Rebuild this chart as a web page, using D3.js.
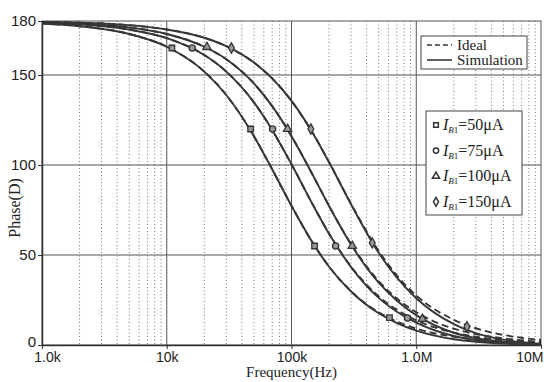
<!DOCTYPE html>
<html>
<head>
<meta charset="utf-8">
<script src="https://cdn.jsdelivr.net/npm/d3@7"></script>
<style>
  body { margin: 0; background: #fff; }
  svg { display: block; font-family: "Liberation Serif", "Times New Roman", serif; }
</style>
</head>
<body>
<div id="chart"></div>
<script>
// frequencies (Hz) the curves were read at
const freqs = [1e3, 2e3, 5e3, 1e4, 2e4, 3e4, 5e4, 7e4, 1e5, 1.5e5, 2e5, 3e5, 5e5, 7e5, 1e6, 2e6, 3e6, 5e6, 7e6, 1e7];

// ideal phase (deg)
const ideal50 = [178.6, 177.1, 172.8, 165.7, 151.9, 138.9, 116.0, 97.6, 77.3, 56.1, 43.6, 29.9, 18.2, 13.0, 9.1, 4.6, 3.1, 1.8, 1.3, 0.9];
const ideal75 = [179.0, 178.1, 175.2, 170.5, 161.1, 151.9, 134.8, 119.5, 100.4, 77.3, 61.9, 43.6, 27.0, 19.5, 13.7, 6.9, 4.6, 2.7, 2.0, 1.4];
const ideal100 = [179.3, 178.6, 176.4, 172.8, 165.7, 158.8, 145.3, 132.7, 116.0, 93.7, 77.3, 56.1, 35.5, 25.8, 18.2, 9.1, 6.1, 3.7, 2.6, 1.8];
const ideal150 = [179.5, 179.1, 177.7, 175.3, 170.7, 166.0, 156.9, 148.1, 135.6, 117.1, 101.6, 78.5, 52.2, 38.6, 27.5, 14.0, 9.3, 5.6, 4.0, 2.8];

// simulated phase (deg)
const sim50 = [178.6, 177.1, 172.8, 165.7, 151.9, 138.9, 116.0, 97.6, 77.3, 56.1, 43.5, 29.7, 17.6, 12.2, 8.0, 3.2, 1.8, 0.8, 0.5, 0.3];
const sim75 = [179.0, 178.1, 175.2, 170.5, 161.1, 151.9, 134.8, 119.5, 100.4, 77.3, 61.8, 43.3, 26.2, 18.5, 12.4, 5.0, 2.8, 1.3, 0.8, 0.4];
const sim100 = [179.3, 178.6, 176.4, 172.8, 165.7, 158.8, 145.3, 132.7, 116.0, 93.7, 77.2, 55.8, 34.6, 24.6, 16.6, 6.8, 3.8, 1.8, 1.0, 0.5];
const sim150 = [179.5, 179.1, 177.7, 175.3, 170.7, 166.0, 156.9, 148.1, 135.6, 117.1, 101.5, 78.2, 51.2, 37.4, 26.0, 11.6, 6.6, 3.0, 1.6, 0.7];

// marker points [freq, phase]
const mark50 = [[1.1e4, 165], [4.7e4, 120], [1.53e5, 55], [6.1e5, 15.2]];
const mark75 = [[1.6e4, 165], [7.05e4, 120], [2.26e5, 55], [8.5e5, 15]];
const mark100 = [[2.1e4, 165.5], [9.3e4, 120], [3.07e5, 55], [1.12e6, 14.5]];
const mark150 = [[3.3e4, 165], [1.43e5, 120], [4.44e5, 56.7], [2.55e6, 10.2]];

const seriesNames = ["50μA", "75μA", "100μA", "150μA"];
const xTicks = [1e3, 1e4, 1e5, 1e6, 1e7];
const xTickLabels = ["1.0k", "10k", "100k", "1.0M", "10M"];
const yTicks = [0, 50, 100, 150, 180];

const series = [
  { name: seriesNames[0], ideal: ideal50, sim: sim50, marks: mark50, symbol: d3.symbolSquare },
  { name: seriesNames[1], ideal: ideal75, sim: sim75, marks: mark75, symbol: d3.symbolCircle },
  { name: seriesNames[2], ideal: ideal100, sim: sim100, marks: mark100, symbol: d3.symbolTriangle },
  { name: seriesNames[3], ideal: ideal150, sim: sim150, marks: mark150, symbol: d3.symbolDiamond }
];

const width = 544, height = 382;
const margin = { top: 21, right: 3, bottom: 37, left: 42 };
const ink = '#363636';

const svg = d3.select('#chart').append('svg')
  .attr('width', width)
  .attr('height', height);

const x = d3.scaleLog()
  .domain([1e3, 1e7])
  .range([margin.left, width - margin.right]);

const y = d3.scaleLinear()
  .domain([0, 180])
  .range([height - margin.bottom, margin.top]);

// minor dotted grid
const minor = [];
for (let d = 1e3; d < 1e7; d *= 10) {
  for (let k = 2; k <= 9; k++) minor.push(d * k);
}
svg.append('g')
  .selectAll('line')
  .data(minor)
  .enter().append('line')
  .attr('x1', d => x(d)).attr('x2', d => x(d))
  .attr('y1', y(180)).attr('y2', y(0))
  .attr('stroke', '#777')
  .attr('stroke-width', 1)
  .attr('stroke-dasharray', '1,2.5');

// major grid
svg.append('g')
  .selectAll('line')
  .data([1e4, 1e5, 1e6])
  .enter().append('line')
  .attr('x1', d => x(d)).attr('x2', d => x(d))
  .attr('y1', y(180)).attr('y2', y(0))
  .attr('stroke', '#555')
  .attr('stroke-width', 1);

svg.append('g')
  .selectAll('line')
  .data([50, 100, 150])
  .enter().append('line')
  .attr('x1', x(1e3)).attr('x2', x(1e7))
  .attr('y1', d => y(d)).attr('y2', d => y(d))
  .attr('stroke', '#555')
  .attr('stroke-width', 1);

// frame
svg.append('rect')
  .attr('x', x(1e3)).attr('y', y(180))
  .attr('width', x(1e7) - x(1e3))
  .attr('height', y(0) - y(180))
  .attr('fill', 'none')
  .attr('stroke', '#555')
  .attr('stroke-width', 1);

// axes
const xAxis = svg.append('g')
  .attr('transform', 'translate(0,' + y(0) + ')')
  .call(d3.axisBottom(x).tickValues(xTicks).tickFormat((d, i) => xTickLabels[i]).tickSize(4).tickSizeOuter(0));
xAxis.select('.domain').attr('stroke', '#333').attr('stroke-width', 1.5);
xAxis.selectAll('.tick line').attr('stroke', '#333');
xAxis.selectAll('text')
  .attr('font-size', 14)
  .attr('fill', '#222')
  .attr('y', 7)
  .attr('dy', '0.71em');
xAxis.selectAll('.tick').filter(d => d === 1e3).select('text').attr('dx', 5);
xAxis.selectAll('.tick').filter(d => d === 1e7).select('text').attr('text-anchor', 'end').attr('dx', 2);

const yAxis = svg.append('g')
  .attr('transform', 'translate(' + x(1e3) + ',0)')
  .call(d3.axisLeft(y).tickValues(yTicks).tickSize(4).tickSizeOuter(0));
yAxis.select('.domain').attr('stroke', '#333').attr('stroke-width', 1.5);
yAxis.selectAll('.tick line').attr('stroke', '#333');
yAxis.selectAll('text')
  .attr('font-size', 15)
  .attr('fill', '#222')
  .attr('x', -6);
yAxis.selectAll('.tick').filter(d => d === 0).select('text').attr('dy', '0.1em');

svg.append('text')
  .attr('x', (x(1e3) + x(1e7)) / 2)
  .attr('y', 377)
  .attr('text-anchor', 'middle')
  .attr('font-size', 15)
  .attr('fill', '#222')
  .text('Frequency(Hz)');

svg.append('text')
  .attr('transform', 'translate(20,208) rotate(-90)')
  .attr('text-anchor', 'middle')
  .attr('font-size', 16)
  .attr('fill', '#222')
  .text('Phase(D)');

// curves
const line = d3.line()
  .x((d, i) => x(freqs[i]))
  .y(d => y(d))
  .curve(d3.curveMonotoneX);

const plot = svg.append('g');

series.forEach(s => {
  plot.append('path')
    .attr('d', line(s.ideal))
    .attr('fill', 'none')
    .attr('stroke', ink)
    .attr('stroke-width', 1.9)
    .attr('stroke-dasharray', '7,4');
  plot.append('path')
    .attr('d', line(s.sim))
    .attr('fill', 'none')
    .attr('stroke', ink)
    .attr('stroke-width', 1.9);
});

series.forEach(s => {
  plot.selectAll(null)
    .data(s.marks)
    .enter().append('path')
    .attr('transform', d => 'translate(' + x(d[0]) + ',' + y(d[1]) + ')')
    .attr('d', d3.symbol().type(s.symbol).size(30))
    .attr('fill', '#999')
    .attr('stroke', '#333')
    .attr('stroke-width', 1.3);
});

// legend: line styles
const leg1 = svg.append('g');
leg1.append('rect')
  .attr('x', 421).attr('y', 36).attr('width', 106).attr('height', 33)
  .attr('fill', '#fff').attr('stroke', '#444').attr('stroke-width', 1);
leg1.append('line')
  .attr('x1', 427).attr('x2', 452).attr('y1', 45).attr('y2', 45)
  .attr('stroke', ink).attr('stroke-width', 1.6).attr('stroke-dasharray', '5,3');
leg1.append('line')
  .attr('x1', 427).attr('x2', 452).attr('y1', 60).attr('y2', 60)
  .attr('stroke', ink).attr('stroke-width', 1.6);
leg1.append('text').attr('x', 457).attr('y', 50).attr('font-size', 15).attr('fill', '#222').text('Ideal');
leg1.append('text').attr('x', 457).attr('y', 65).attr('font-size', 15).attr('fill', '#222').text('Simulation');

// legend: bias currents
const leg2 = svg.append('g');
leg2.append('rect')
  .attr('x', 426).attr('y', 111).attr('width', 96).attr('height', 104)
  .attr('fill', '#fff').attr('stroke', '#444').attr('stroke-width', 1);

series.forEach((s, i) => {
  const by = 130 + i * 25.6;
  leg2.append('path')
    .attr('transform', 'translate(436,' + (by - 5) + ')')
    .attr('d', d3.symbol().type(s.symbol).size(22))
    .attr('fill', '#fff')
    .attr('stroke', '#333')
    .attr('stroke-width', 1.5);
  const t = leg2.append('text')
    .attr('x', 443).attr('y', by)
    .attr('font-size', 16).attr('fill', '#222');
  t.append('tspan').attr('font-style', 'italic').text('I');
  t.append('tspan').attr('font-style', 'italic').attr('font-size', 9).attr('dy', 3).text('B');
  t.append('tspan').attr('font-size', 9).text('1');
  t.append('tspan').attr('dy', -3).text('=' + s.name);
});
</script>
</body>
</html>
